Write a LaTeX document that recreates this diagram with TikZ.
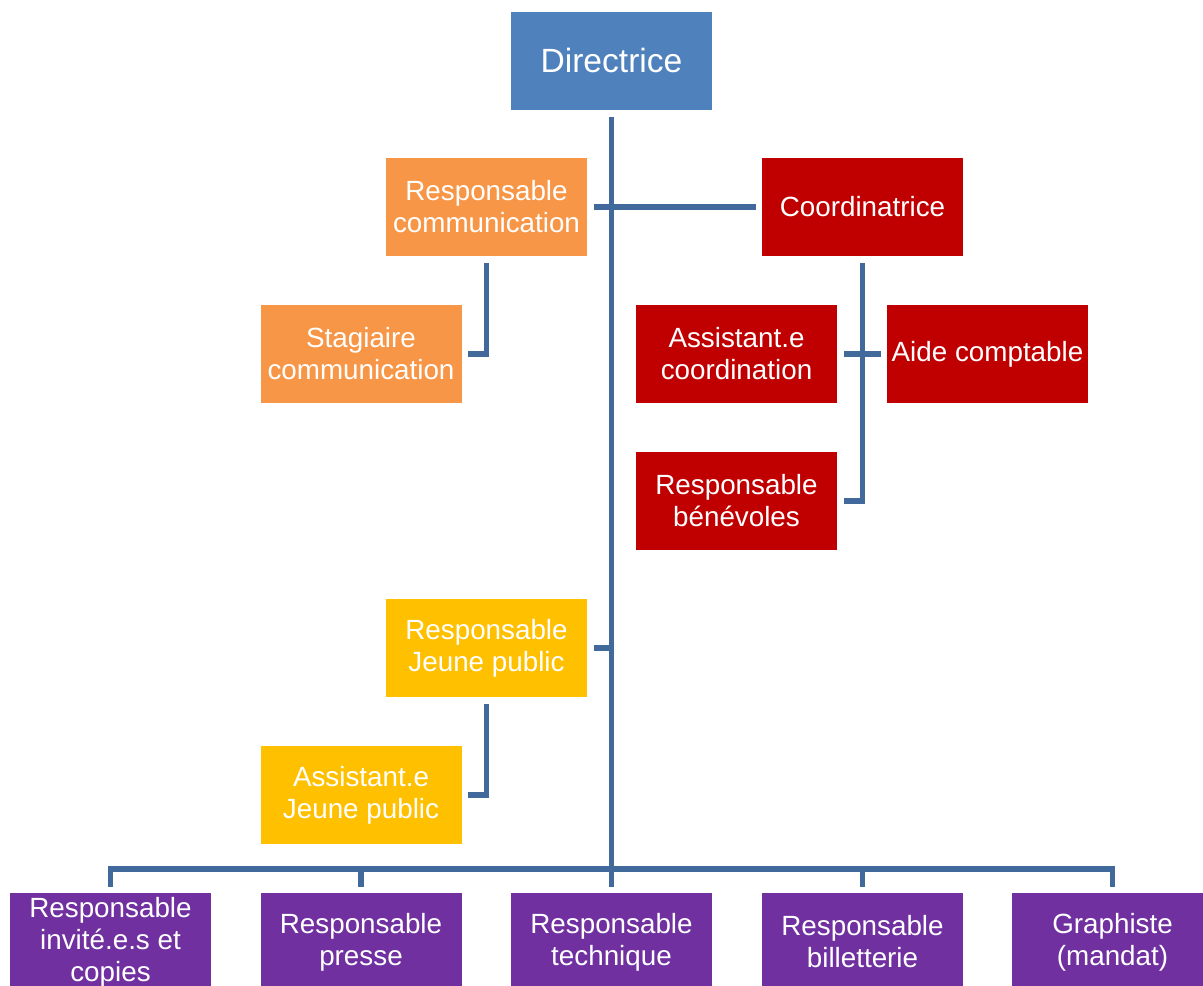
\documentclass[tikz,border=0pt]{standalone}
\usepackage{fontspec}
\setmainfont{Liberation Sans}
\usetikzlibrary{calc}
\definecolor{bleudir}{RGB}{79,129,189}
\definecolor{orangecom}{RGB}{247,150,70}
\definecolor{rougecoord}{RGB}{192,0,0}
\definecolor{jaunejp}{RGB}{255,192,0}
\definecolor{violetresp}{RGB}{112,48,160}
\definecolor{bleulien}{RGB}{65,105,155}
\tikzset{
  poste/.style={
    draw=none,
    align=center,
    text=white,
    minimum width=100.5pt,
    minimum height=49pt,
    inner sep=0pt,
    font=\fontsize{13.9}{16}\selectfont
  },
  chef/.style={
    poste,
    fill=bleudir,
    font=\fontsize{16.8}{19}\selectfont
  },
  lien/.style={
    line width=2.6pt,
    bleulien
  }
}
\begin{document}
\begin{tikzpicture}[x=0.5pt,y=-0.5pt]
\clip (0,0) rectangle (1203,985);
\fill[white] (0,0) rectangle (1203,985);
\node[chef] (dir) at (611.5,60.5) {Directrice};
\node[poste,fill=orangecom] (com) at (486.5,207) {Responsable\\communication};
\node[poste,fill=rougecoord] (coord) at (862.5,207) {Coordinatrice};
\node[poste,fill=orangecom] (stag) at (361,354) {Stagiaire\\communication};
\node[poste,fill=rougecoord] (asst) at (736.5,354) {Assistant.e\\coordination};
\node[poste,fill=rougecoord] (aide) at (987.5,354) {Aide comptable};
\node[poste,fill=rougecoord] (benev) at (736.5,501) {Responsable\\bénévoles};
\node[poste,fill=jaunejp] (jp) at (486.5,648) {Responsable\\Jeune public};
\node[poste,fill=jaunejp] (ajp) at (361,795) {Assistant.e\\Jeune public};
\node[poste,fill=violetresp] (b1) at (110.5,942) {Responsable\\invité.e.s et\\copies};
\node[poste,fill=violetresp] (b2) at (361,942) {Responsable\\presse};
\node[poste,fill=violetresp] (b3) at (611.5,942) {Responsable\\technique};
\node[poste,fill=violetresp] (b4) at (862.5,942) {Responsable\\billetterie};
\node[poste,fill=violetresp] (b5) at (1112.5,942) {Graphiste\\(mandat)};
\coordinate (tronc) at (611.5,869);
\draw[lien] ([yshift=-3.5pt]dir.south) -- (tronc);
\draw[lien] ([xshift=3.5pt]com.east) -- ([xshift=-3pt]coord.west);
\draw[lien] ([yshift=-3.5pt]com.south) |- ([xshift=3pt]stag.east);
\draw[lien] ([yshift=-3.5pt]coord.south) |- ([xshift=3.5pt]benev.east);
\draw[lien] ([xshift=3.5pt]asst.east) -- ([xshift=-3pt]aide.west);
\draw[lien] ([xshift=3.5pt]jp.east) -- (jp.east -| tronc);
\draw[lien] ([yshift=-3.5pt]jp.south) |- ([xshift=3pt]ajp.east);
\draw[lien] ([yshift=3pt]b1.north) -- (b1.north |- tronc) -- (b5.north |- tronc) -- ([yshift=3pt]b5.north);
\foreach \b in {b2,b3,b4}
  \draw[lien] ([yshift=3pt]\b.north) -- (\b.north |- tronc);
\end{tikzpicture}
\end{document}
